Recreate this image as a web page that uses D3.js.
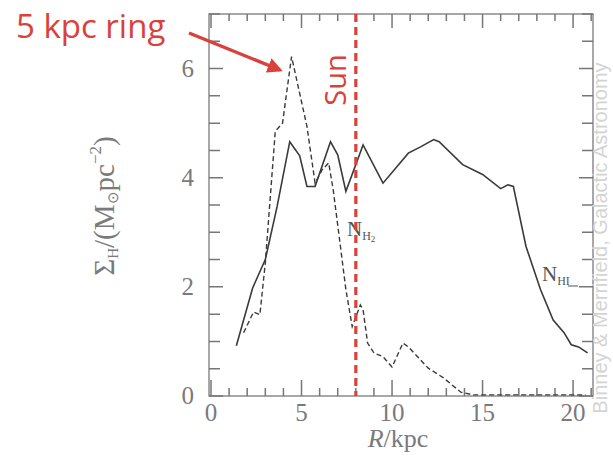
<!DOCTYPE html>
<html lang="en">
<head>
    <meta charset="utf-8">
    <title>Gas surface density</title>
    <script src="https://d3js.org/d3.v7.min.js"></script>
</head>
<body style="margin:0">
    <script type="text/javascript">
        // HI (solid) profile
        var hiR     = [1.4, 2.3, 3.0, 3.65, 4.35, 4.9, 5.3, 5.75, 6.6, 7.0, 7.45, 8.4, 9.5, 10.9, 11.6, 12.3, 12.6, 13.9, 15.0, 16.0, 16.4, 16.7, 17.4, 18.2, 18.9, 19.5, 19.9, 20.3, 20.8];
        var hiSigma = [0.92, 1.98, 2.5, 3.47, 4.66, 4.4, 3.84, 3.84, 4.66, 4.42, 3.75, 4.6, 3.9, 4.45, 4.57, 4.7, 4.66, 4.24, 4.06, 3.8, 3.87, 3.84, 2.74, 1.95, 1.39, 1.16, 0.94, 0.9, 0.79];
        // H2 (dashed) profile
        var h2R     = [1.8, 2.35, 2.7, 3.0, 3.55, 3.95, 4.45, 5.3, 5.75, 6.15, 6.5, 6.75, 7.15, 7.45, 7.8, 8.25, 8.4, 8.65, 9.0, 9.5, 10.0, 10.6, 10.9, 12.0, 12.85, 13.8, 14.5, 16.0, 18.0, 20.7];
        var h2Sigma = [1.16, 1.54, 1.49, 2.44, 4.85, 5.0, 6.22, 4.94, 3.9, 4.15, 4.27, 3.78, 2.74, 1.95, 1.27, 1.67, 1.58, 0.97, 0.79, 0.72, 0.53, 0.97, 0.9, 0.51, 0.33, 0.07, 0.02, 0.02, 0.02, 0.02];
        var xTicks = [0, 5, 10, 15, 20];
        var yTicks = [0, 2, 4, 6];
        var sunR = 8;

        var w = 613, h = 462;
        var padL = 209, padR = 593, padT = 14, padB = 396;
        var grey = "#7a7a7a", red = "#d9413a";

        var x = d3.scaleLinear().domain([0, 21.1]).range([211, padR]);
        var y = d3.scaleLinear().domain([0, 7]).range([padB, padT]);

        var svg = d3.select("body").append("svg")
            .attr("width", w).attr("height", h);

        // frame
        svg.append("rect")
            .attr("x", padL).attr("y", padT)
            .attr("width", padR - padL).attr("height", padB - padT)
            .attr("fill", "none").attr("stroke", grey).attr("stroke-width", 1.3);

        // inward ticks on all four sides, one path
        var xAll = d3.range(0, 22, 1);
        var yAll = d3.range(0, 7.01, 0.5);
        var tickPath = d3.path();
        xAll.forEach(function(v) {
            var big = v % 5 === 0;
            tickPath.moveTo(x(v), padB);
            tickPath.lineTo(x(v), padB - (big ? 16 : 8));
            tickPath.moveTo(x(v), padT);
            tickPath.lineTo(x(v), padT + (big ? 14 : 7));
        });
        yAll.forEach(function(v) {
            var big = v % 2 === 0;
            tickPath.moveTo(padL, y(v));
            tickPath.lineTo(padL + (big ? 14 : 11), y(v));
            tickPath.moveTo(padR, y(v));
            tickPath.lineTo(padR - (big ? 14 : 11), y(v));
        });
        svg.append("path")
            .attr("d", tickPath.toString())
            .attr("fill", "none")
            .attr("stroke", "#777777")
            .attr("stroke-width", 1.5);

        // tick labels
        svg.selectAll("text.xt").data(xTicks).enter().append("text")
            .attr("class", "xt")
            .attr("x", function(d) { return x(d); }).attr("y", 421)
            .attr("text-anchor", "middle")
            .attr("font-family", "Liberation Serif").attr("font-size", 25)
            .attr("fill", grey)
            .text(function(d) { return d; });
        svg.selectAll("text.yt").data(yTicks).enter().append("text")
            .attr("class", "yt")
            .attr("x", 194).attr("y", function(d) { return y(d) + 8; })
            .attr("text-anchor", "end")
            .attr("font-family", "Liberation Serif").attr("font-size", 25)
            .attr("fill", grey)
            .text(function(d) { return d; });

        // axis titles
        var xLabel = svg.append("text")
            .attr("x", 398).attr("y", 447)
            .attr("text-anchor", "middle")
            .attr("font-family", "Liberation Serif").attr("font-size", 26)
            .attr("fill", grey);
        xLabel.append("tspan").attr("font-style", "italic").text("R");
        xLabel.append("tspan").text("/kpc");

        var yLabel = svg.append("text")
            .attr("transform", "translate(114,206) rotate(-90)")
            .attr("text-anchor", "middle")
            .attr("font-family", "Liberation Serif").attr("font-size", 29)
            .attr("fill", grey);
        yLabel.append("tspan").text("Σ");
        yLabel.append("tspan").attr("font-size", 15).attr("dy", 4).text("H");
        yLabel.append("tspan").attr("dy", -4).text("/(M");
        yLabel.append("tspan").attr("font-size", 15).attr("dy", 4).text("⊙");
        yLabel.append("tspan").attr("dy", -4).text("pc");
        yLabel.append("tspan").attr("font-size", 17).attr("dy", -13).text("−2");
        yLabel.append("tspan").attr("dy", 13).text(")");

        // curves
        var line = d3.line()
            .x(function(d) { return x(d[0]); })
            .y(function(d) { return y(d[1]); });

        svg.append("path")
            .datum(d3.zip(hiR, hiSigma))
            .attr("d", line)
            .attr("fill", "none").attr("stroke", "#3a3a3a").attr("stroke-width", 1.6);

        svg.append("path")
            .datum(d3.zip(h2R, h2Sigma))
            .attr("d", line)
            .attr("fill", "none").attr("stroke", "#3a3a3a").attr("stroke-width", 1.4)
            .attr("stroke-dasharray", "5,3");

        // curve labels
        var n2 = svg.append("text").attr("x", 347).attr("y", 236)
            .attr("font-family", "Liberation Serif").attr("font-size", 21).attr("fill", "#555");
        n2.append("tspan").text("N");
        n2.append("tspan").attr("font-size", 12).attr("dy", 4).text("H");
        n2.append("tspan").attr("font-size", 9).attr("dy", 2).text("2");

        var n1 = svg.append("text").attr("x", 542).attr("y", 281)
            .attr("font-family", "Liberation Serif").attr("font-size", 21).attr("fill", "#555");
        n1.append("tspan").text("N");
        n1.append("tspan").attr("font-size", 12).attr("dy", 4).text("HI");
        svg.append("line").attr("x1", 568).attr("x2", 578).attr("y1", 286).attr("y2", 286)
            .attr("stroke", "#555").attr("stroke-width", 1);

        // Sun marker
        svg.append("line")
            .attr("x1", x(sunR)).attr("x2", x(sunR))
            .attr("y1", padT).attr("y2", padB)
            .attr("stroke", red).attr("stroke-width", 3.2)
            .attr("stroke-dasharray", "8,5");
        svg.append("text")
            .attr("transform", "translate(346,80) rotate(-90)")
            .attr("text-anchor", "middle")
            .attr("font-family", "Open Sans").attr("font-size", 29)
            .attr("fill", red)
            .text("Sun");

        // 5 kpc ring annotation
        svg.append("text")
            .attr("x", 16).attr("y", 38)
            .attr("font-family", "Open Sans").attr("font-size", 33)
            .attr("fill", red)
            .text("5 kpc ring");
        svg.append("defs").append("marker")
            .attr("id", "ah").attr("viewBox", "0 0 10 10")
            .attr("refX", 8).attr("refY", 5)
            .attr("markerWidth", 4.5).attr("markerHeight", 4.5)
            .attr("orient", "auto")
            .append("path").attr("d", "M0,0L10,5L0,10z").attr("fill", red);
        svg.append("line")
            .attr("x1", 189).attr("y1", 33).attr("x2", 280).attr("y2", 70)
            .attr("stroke", red).attr("stroke-width", 3.4)
            .attr("marker-end", "url(#ah)");

        // watermark
        svg.append("text")
            .attr("transform", "translate(607,238) rotate(-90)")
            .attr("text-anchor", "middle")
            .attr("font-family", "Liberation Sans").attr("font-size", 20)
            .attr("fill", "#d4d4d4")
            .text("Binney & Merrifield, Galactic Astronomy");
    </script>
</body>
</html>
